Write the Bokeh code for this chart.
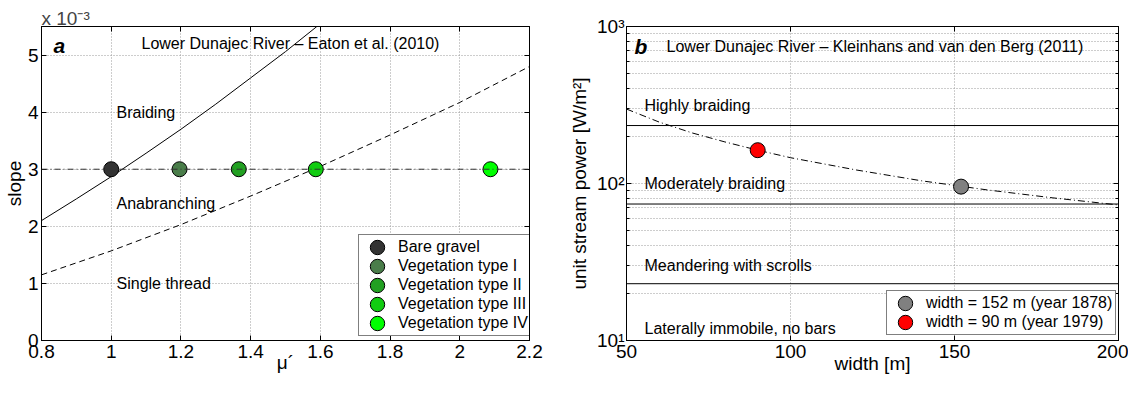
from bokeh.plotting import figure
from bokeh.layouts import row
from bokeh.models import (Range1d, FixedTicker, CustomJSTickFormatter, Label, Span,
                          LinearAxis, LogAxis)
from bokeh.embed import file_html
from bokeh.resources import INLINE

FONT = "Liberation Sans"

# ---------------- panel a data ----------------
mu_braid = [0.8, 0.9, 1.0, 1.1, 1.2, 1.3, 1.4, 1.5, 1.59]
slope_braid = [2.10e-3, 2.48e-3, 2.87e-3, 3.28e-3, 3.70e-3, 4.14e-3, 4.60e-3, 5.06e-3, 5.50e-3]
mu_single = [0.8, 1.0, 1.2, 1.4, 1.6, 1.8, 2.0, 2.2]
slope_single = [1.15e-3, 1.57e-3, 2.03e-3, 2.53e-3, 3.05e-3, 3.60e-3, 4.17e-3, 4.80e-3]
river_slope = 3.0e-3
veg_names = ["Bare gravel", "Vegetation type I", "Vegetation type II",
             "Vegetation type III", "Vegetation type IV"]
veg_mu = [1.0, 1.196, 1.366, 1.587, 2.088]
veg_slope = [3.0e-3, 3.0e-3, 3.0e-3, 3.0e-3, 3.0e-3]
veg_colors = ["#333333", "#4a7d4a", "#22a022", "#11cc11", "#00ff00"]
a_xticks = [0.8, 1.0, 1.2, 1.4, 1.6, 1.8, 2.0, 2.2]
a_yticks = [0.0, 0.001, 0.002, 0.003, 0.004, 0.005]

# ---------------- panel b data ----------------
width_curve = [50, 60, 70, 80, 90, 100, 120, 140, 160, 180, 200]
power_curve = [298, 246, 210, 184, 163, 146, 122, 104, 91, 81, 73]
thresholds = [234, 74, 23]
pt_width = [152, 90]
pt_power = [95.5, 163]
pt_colors = ["#808080", "#ff0000"]
pt_labels = ["width = 152 m (year 1878)", "width = 90 m (year 1979)"]
b_xticks = [50, 100, 150, 200]
b_yticks = [10, 100, 1000]
b_yminor = [20, 30, 40, 50, 60, 70, 80, 90, 200, 300, 400, 500, 600, 700, 800, 900]

TICK = "19px"
TXT = "16px"
GRID = "#9a9a9a"
EMPTY = "return '';"
H = 385
TOP = 26


def style_axis(ax, standoff=3):
    ax.major_label_text_font = FONT
    ax.major_label_text_font_size = TICK
    ax.major_label_text_color = "black"
    ax.axis_label_text_font = FONT
    ax.axis_label_text_font_size = TICK
    ax.axis_label_text_font_style = "normal"
    ax.axis_label_text_color = "black"
    ax.major_tick_in = 5
    ax.major_tick_out = 0
    ax.minor_tick_in = 0
    ax.minor_tick_out = 0
    ax.axis_line_color = "black"
    ax.major_tick_line_color = "black"
    ax.major_label_standoff = standoff
    ax.major_label_text_line_height = 0.8
    ax.axis_label_text_line_height = 0.6


def hidden_axis(cls, ticker, minor=False):
    ax = cls(ticker=ticker, formatter=CustomJSTickFormatter(code=EMPTY))
    ax.major_label_standoff = 0
    ax.major_tick_in = 5
    ax.major_tick_out = 0
    ax.minor_tick_in = 3 if minor else 0
    ax.minor_tick_out = 0
    ax.axis_line_color = "black"
    return ax


def lbl(p, x, y, text, dx, dy, size=TXT, style="normal", baseline="middle"):
    p.add_layout(Label(x=x, y=y, x_offset=dx, y_offset=dy, text=text,
                       text_font=FONT, text_font_size=size, text_font_style=style,
                       text_baseline=baseline, text_align="left", text_color="black"))


def style_legend(lg, loc):
    lg.location = loc
    lg.border_line_color = "black"
    lg.border_line_width = 1
    lg.background_fill_color = "white"
    lg.background_fill_alpha = 1
    lg.padding = 3
    lg.spacing = 1
    lg.margin = 0
    lg.glyph_width = 30
    lg.glyph_height = 18
    lg.label_height = 16
    lg.label_standoff = 6
    lg.label_text_font = FONT
    lg.label_text_font_size = TXT
    lg.label_text_color = "black"


# ================= panel a =================
pa = figure(width=560, height=H, output_backend="svg", toolbar_location=None,
            x_range=Range1d(0.8, 2.2), y_range=Range1d(0, 0.0055),
            min_border_left=37, min_border_right=31, min_border_top=TOP,
            min_border_bottom=H - TOP - 314)
pa.outline_line_color = "black"
pa.background_fill_color = "white"
pa.title.text = "x 10⁻³"
pa.title.text_font = FONT
pa.title.text_font_size = TICK
pa.title.text_font_style = "normal"
pa.title.text_line_height = 0.8
pa.title.standoff = -5
pa.title.align = "left"
pa.title.offset = 0

xt_a = FixedTicker(ticks=a_xticks)
yt_a = FixedTicker(ticks=a_yticks)
pa.xaxis.ticker = xt_a
pa.yaxis.ticker = yt_a
pa.xaxis.formatter = CustomJSTickFormatter(code="return String(Math.round(tick*10)/10);")
pa.yaxis.formatter = CustomJSTickFormatter(code="return (tick*1000).toFixed(0);")
style_axis(pa.xaxis[0], 4)
style_axis(pa.yaxis[0], 3)
pa.xaxis.axis_label = "μ´"
pa.xaxis.axis_label_standoff = -9
pa.yaxis.axis_label = "slope"
pa.yaxis.axis_label_standoff = 0
pa.add_layout(hidden_axis(LinearAxis, xt_a), "above")
pa.add_layout(hidden_axis(LinearAxis, yt_a), "right")

for g in (pa.xgrid[0], pa.ygrid[0]):
    g.grid_line_color = GRID
    g.grid_line_dash = "1 2"
    g.grid_line_width = 1

pa.add_layout(Span(location=river_slope, dimension="width", line_color="#333333",
                   line_dash="6 3 1 3", line_width=1))
pa.line(mu_braid, slope_braid, line_color="black", line_width=1)
pa.line(mu_single, slope_single, line_color="black", line_width=1, line_dash="6 4")

for name, m, s, c in zip(veg_names, veg_mu, veg_slope, veg_colors):
    pa.ellipse(x=[m], y=[s], width=15, height=15, width_units="screen", height_units="screen",
               fill_color=c, line_color="black", line_width=1, legend_label=name)

lbl(pa, 0.8, 0.0055, "a", 12, -19, size="21px", style="bold italic")
lbl(pa, 0.8, 0.0055, "Lower Dunajec River – Eaton et al. (2010)", 100, -17)
lbl(pa, 0.8, 4.0e-3, "Braiding", 75, 0)
lbl(pa, 0.8, 2.4e-3, "Anabranching", 75, 0)
lbl(pa, 0.8, 1.0e-3, "Single thread", 75, 0)

style_legend(pa.legend[0], (317, 4))

# ================= panel b =================
pb = figure(width=568, height=H, output_backend="svg", toolbar_location=None,
            x_range=Range1d(50, 200), y_range=Range1d(10, 1000), y_axis_type="log",
            min_border_left=66, min_border_right=10, min_border_top=TOP,
            min_border_bottom=H - TOP - 317)
pb.outline_line_color = "black"
pb.background_fill_color = "white"

xt_b = FixedTicker(ticks=b_xticks)
yt_b = FixedTicker(ticks=b_yticks, minor_ticks=b_yminor)
pb.xaxis.ticker = xt_b
pb.yaxis.ticker = yt_b
style_axis(pb.xaxis[0], 4)
style_axis(pb.yaxis[0], 2)
pb.yaxis[0].minor_tick_in = 3
pb.yaxis[0].minor_tick_line_color = "black"
pb.yaxis.formatter = CustomJSTickFormatter(
    code="const e = Math.round(Math.log10(tick)); const s = {1:'¹',2:'²',3:'³'}; return '10' + (s[e] || e);")
pb.xaxis.axis_label = "width [m]"
pb.xaxis.axis_label_standoff = -8
pb.yaxis.axis_label = "unit stream power [W/m²]"
pb.yaxis.axis_label_standoff = 4
pb.add_layout(hidden_axis(LinearAxis, xt_b), "above")
pb.add_layout(hidden_axis(LogAxis, FixedTicker(ticks=b_yticks, minor_ticks=b_yminor), minor=True), "right")

for g in (pb.xgrid[0], pb.ygrid[0]):
    g.grid_line_color = GRID
    g.grid_line_dash = "1 2"
    g.grid_line_width = 1
pb.ygrid[0].minor_grid_line_color = GRID
pb.ygrid[0].minor_grid_line_dash = "1 2"

for t in thresholds:
    pb.add_layout(Span(location=t, dimension="width", line_color="black", line_width=1))
pb.line(width_curve, power_curve, line_color="black", line_width=1, line_dash="7 3 1 3")

for w, pw, c, lab in zip(pt_width, pt_power, pt_colors, pt_labels):
    pb.ellipse(x=[w], y=[pw], width=15, height=15, width_units="screen", height_units="screen",
               fill_color=c, line_color="black", line_width=1, legend_label=lab)

lbl(pb, 50, 1000, "b", 8, -20, size="21px", style="bold italic")
lbl(pb, 50, 1000, "Lower Dunajec River – Kleinhans and van den Berg (2011)", 40, -20)
lbl(pb, 50, 316, "Highly braiding", 18, 0)
lbl(pb, 50, 100, "Moderately braiding", 18, 0)
lbl(pb, 50, 30, "Meandering with scrolls", 18, 0)
lbl(pb, 50, 12, "Laterally immobile, no bars", 18, 0)

style_legend(pb.legend[0], (260, 5))

layout = row(pa, pb)
open("out.html", "w").write(file_html(layout, INLINE))
